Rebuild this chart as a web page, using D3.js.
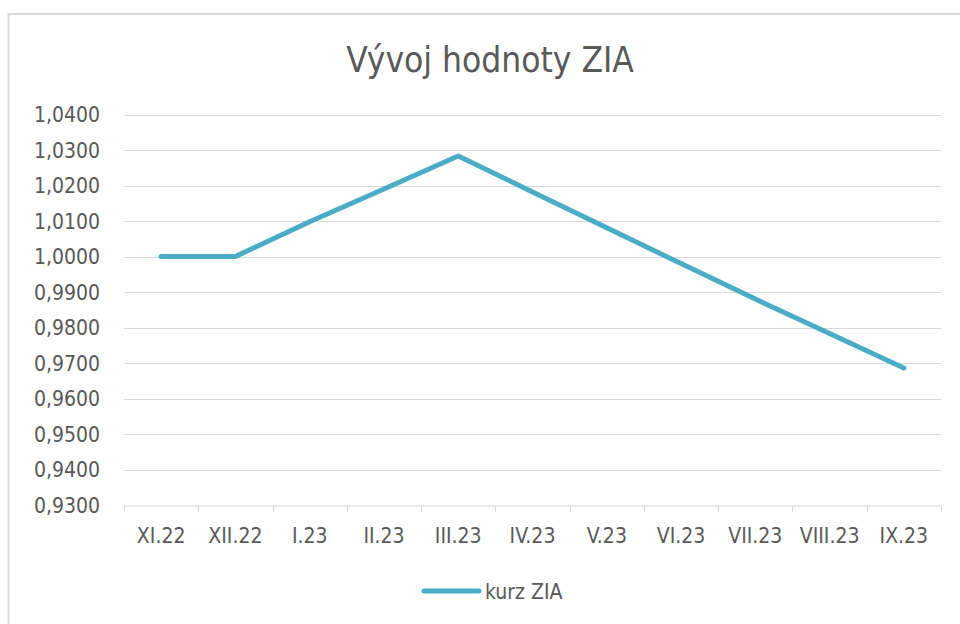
<!DOCTYPE html>
<html>
<head>
<meta charset="utf-8">
<script src="https://cdn.jsdelivr.net/npm/d3@7"></script>
<style>
body { margin: 0; background: #fff; }
text { font-family: "DejaVu Sans Condensed", "Open Sans", sans-serif; fill: #595959; }
</style>
</head>
<body>
<script>
var w = 960;
var h = 624;

var months = ["XI.22", "XII.22", "I.23", "II.23", "III.23", "IV.23", "V.23", "VI.23", "VII.23", "VIII.23", "IX.23"];
var kurz = [1.0000, 1.0000, 1.0098, 1.0190, 1.0283, 1.0182, 1.0081, 0.9980, 0.9880, 0.9783, 0.9686];
var yTicks = [0.93, 0.94, 0.95, 0.96, 0.97, 0.98, 0.99, 1.00, 1.01, 1.02, 1.03, 1.04];

var svg = d3.select("body")
    .append("svg")
    .attr("width", w)
    .attr("height", h);

// chart frame
svg.append("rect")
    .attr("x", 8.5)
    .attr("y", 14)
    .attr("width", 1000)
    .attr("height", 700)
    .attr("fill", "none")
    .attr("stroke", "#d9d9d9")
    .attr("stroke-width", 2);

var x = d3.scaleBand()
    .domain(months)
    .range([124, 941]);

var y = d3.scaleLinear()
    .domain([0.93, 1.04])
    .range([505, 114.5]);

var fmt = function(d) {
    return d3.format(".4f")(d).replace(".", ",");
};

// gridlines
svg.selectAll("line.grid")
    .data(yTicks.slice(1))
    .enter()
    .append("line")
    .attr("class", "grid")
    .attr("x1", 124)
    .attr("x2", 941)
    .attr("y1", function(d) { return Math.round(y(d)) + 0.5; })
    .attr("y2", function(d) { return Math.round(y(d)) + 0.5; })
    .attr("stroke", "#d9d9d9")
    .attr("stroke-width", 1);

// y labels
svg.selectAll("text.ylab")
    .data(yTicks)
    .enter()
    .append("text")
    .attr("class", "ylab")
    .attr("x", 100)
    .attr("y", function(d) { return y(d); })
    .attr("dy", "0.36em")
    .attr("text-anchor", "end")
    .attr("font-size", "21px")
    .text(fmt);

// x axis
var xAxis = svg.append("g")
    .attr("transform", "translate(0," + (Math.round(y(0.93)) + 0.5) + ")")
    .call(d3.axisBottom(x).tickSize(0).tickPadding(23));
xAxis.select(".domain").attr("stroke", "#d9d9d9");
xAxis.selectAll("text")
    .attr("font-size", "21px")
    .attr("font-family", null)
    .attr("fill", "#595959");

var bounds = months.map(function(m) { return x(m); }).concat([x.range()[1]]);
xAxis.selectAll("line.sep")
    .data(bounds)
    .enter()
    .append("line")
    .attr("class", "sep")
    .attr("x1", function(d) { return Math.round(d) + 0.5; })
    .attr("x2", function(d) { return Math.round(d) + 0.5; })
    .attr("y1", 0)
    .attr("y2", 7)
    .attr("stroke", "#d9d9d9");

// series
var line = d3.line()
    .x(function(d, i) { return x(months[i]) + x.bandwidth() / 2; })
    .y(function(d) { return y(d); });

svg.append("path")
    .datum(kurz)
    .attr("d", line)
    .attr("fill", "none")
    .attr("stroke", "#4bacc6")
    .attr("stroke-width", 5)
    .attr("stroke-linecap", "round")
    .attr("stroke-linejoin", "round");

// title
svg.append("text")
    .attr("x", 490)
    .attr("y", 72)
    .attr("text-anchor", "middle")
    .attr("font-size", "35px")
    .text("Vývoj hodnoty ZIA");

// legend
svg.append("line")
    .attr("x1", 424)
    .attr("x2", 479)
    .attr("y1", 591)
    .attr("y2", 591)
    .attr("stroke", "#4bacc6")
    .attr("stroke-width", 5)
    .attr("stroke-linecap", "round");

svg.append("text")
    .attr("x", 485)
    .attr("y", 591)
    .attr("dy", "0.36em")
    .attr("font-size", "21px")
    .text("kurz ZIA");
</script>
</body>
</html>
